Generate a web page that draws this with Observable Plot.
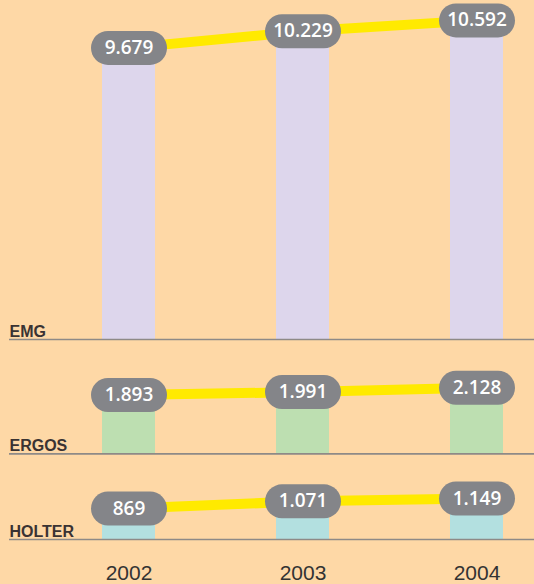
<!DOCTYPE html>
<html>
<head>
<meta charset="utf-8">
<script src="https://cdn.jsdelivr.net/npm/d3@7"></script>
<script src="https://cdn.jsdelivr.net/npm/@observablehq/plot@0.6"></script>
<style>
  html, body { margin: 0; padding: 0; background: #FED8A6; overflow: hidden; }
  #chart { width: 534px; }
  #chart svg { display: block; }
</style>
</head>
<body>
<div id="chart"></div>
<script>
// ---- data ----
const years = ["2002", "2003", "2004"];
const emg = [9679, 10229, 10592];
const ergos = [1893, 1991, 2128];
const holter = [869, 1071, 1149];
const panelNames = ["EMG", "ERGOS", "HOLTER"];

const fmt = d3.formatLocale({decimal: ",", thousands: ".", grouping: [3], currency: ["", ""]}).format(",");

const BG = "#FED8A6";
const panels = [
  {name: panelNames[0], values: emg,    color: "#DDD6EC", height: 345, marginBottom: 6,   yMax: 11252, axis: false},
  {name: panelNames[1], values: ergos,  color: "#BDDFB1", height: 114, marginBottom: 5.6, yMax: 3488,  axis: false},
  {name: panelNames[2], values: holter, color: "#B3E0E0", height: 125, marginBottom: 45,  yMax: 2246,  axis: true}
];

// stadium-shaped label background as a custom dot symbol
const pill = {
  draw(ctx) {
    const w = 76, h = 34, r = h / 2;
    ctx.moveTo(-w / 2 + r, -r);
    ctx.lineTo(w / 2 - r, -r);
    ctx.arc(w / 2 - r, 0, r, -Math.PI / 2, Math.PI / 2);
    ctx.lineTo(-w / 2 + r, r);
    ctx.arc(-w / 2 + r, 0, r, Math.PI / 2, 3 * Math.PI / 2);
    ctx.closePath();
  }
};

const chart = document.getElementById("chart");

for (const p of panels) {
  const data = years.map((year, i) => ({year, value: p.values[i]}));
  const marks = [
    Plot.barY(data, {x: "year", y: "value", fill: p.color}),
    Plot.ruleY([0], {stroke: "#8E8A87", strokeWidth: 1.7}),
    Plot.text([p.name], {
      text: d => d, frameAnchor: "bottom-left", textAnchor: "start", lineAnchor: "bottom",
      dy: -3, fontWeight: "bold", fontSize: 16, fill: "#3A3333", fontFamily: "Liberation Sans"
    }),
    Plot.lineY(data, {x: "year", y: "value", stroke: "#FFEA00", strokeWidth: 10}),
    Plot.dot(data, {x: "year", y: "value", symbol: pill, fill: "#848589", stroke: "none"}),
    Plot.text(data, {
      x: "year", y: "value", text: d => fmt(d.value), fill: "white",
      fontSize: 19, fontWeight: 600, fontFamily: "Open Sans"
    })
  ];
  if (p.axis) {
    marks.push(Plot.axisX({
      tickSize: 0, tickPadding: 26, fontSize: 21, label: null,
      fill: "#333", fontFamily: "Liberation Sans"
    }));
  }
  const svg = Plot.plot({
    width: 534,
    height: p.height,
    marginTop: 0,
    marginBottom: p.marginBottom,
    marginLeft: 9,
    marginRight: 0,
    style: {background: BG, overflow: "visible", fontFamily: "Open Sans"},
    x: {type: "band", domain: years, range: [41.5, 563.5], paddingInner: 0.695, paddingOuter: 0.3475, axis: null},
    y: {domain: [0, p.yMax], axis: null},
    marks
  });
  chart.appendChild(svg);
}
</script>
</body>
</html>
